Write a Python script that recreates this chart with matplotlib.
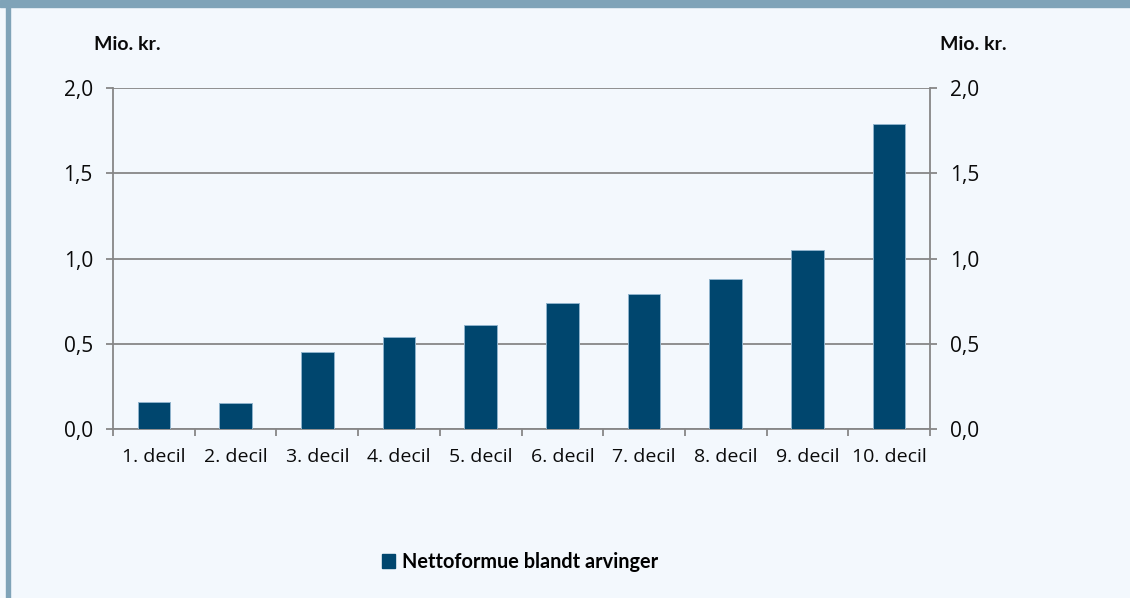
import matplotlib
matplotlib.use("Agg")
import matplotlib.pyplot as plt
from matplotlib.patches import Rectangle, Patch
import numpy as np

categories = ["1. decil", "2. decil", "3. decil", "4. decil", "5. decil",
              "6. decil", "7. decil", "8. decil", "9. decil", "10. decil"]
values = [0.16, 0.155, 0.45, 0.54, 0.61, 0.74, 0.79, 0.88, 1.05, 1.79]
yticks = [0.0, 0.5, 1.0, 1.5, 2.0]
ytick_labels = ["0,0", "0,5", "1,0", "1,5", "2,0"]
series_name = "Nettoformue blandt arvinger"

bg = "#f3f8fd"
band = "#7fa3b8"
bar_col = "#00466e"
grid_col = "#878787"
txt = "#0a0a0a"

plt.rcParams["font.family"] = ["Open Sans", "DejaVu Sans"]

fig = plt.figure(figsize=(11.3, 5.98), dpi=100, facecolor=bg)
# frame bands (top strip and left strip)
fig.patches.append(Rectangle((0, 1 - 7 / 598), 1, 7 / 598, transform=fig.transFigure,
                             color=band, zorder=0))
fig.patches.append(Rectangle((6 / 1130, 0), 4 / 1130, 1, transform=fig.transFigure,
                             color=band, zorder=0))

ax = fig.add_axes([113 / 1130, 1 - 429 / 598, 817 / 1130, 341 / 598])
ax.set_facecolor(bg)
x = np.arange(len(categories))
ax.bar(x, values, width=0.4, color=bar_col, edgecolor="#8fb3cc", linewidth=0.7, zorder=3)

ax.set_xlim(-0.5, len(categories) - 0.5)
ax.set_ylim(0, 2.0)
ax.set_yticks(yticks)
ax.set_yticklabels(ytick_labels)
ax.yaxis.grid(True, color=grid_col, linewidth=1.3, zorder=1)
ax.set_axisbelow(True)

ax.set_xticks(x)
ax.set_xticklabels(categories)
ax.set_xticks(np.arange(-0.5, len(categories)), minor=True)
ax.tick_params(axis="x", which="major", length=0, pad=13.5, labelsize=14, labelcolor=txt)
ax.tick_params(axis="x", which="minor", length=5, width=1.3, color=grid_col)
ax.tick_params(axis="y", length=5, width=1.3, color=grid_col, labelsize=15, pad=9.5,
               labelcolor=txt)

for side in ["left", "right", "bottom"]:
    ax.spines[side].set_color(grid_col)
    ax.spines[side].set_linewidth(1.3)
ax.spines["top"].set_visible(False)

ax2 = ax.twinx()
ax2.set_ylim(0, 2.0)
ax2.set_yticks(yticks)
ax2.set_yticklabels(ytick_labels)
ax2.tick_params(axis="y", length=5, width=1.3, color=grid_col, labelsize=15, pad=9.5,
                labelcolor=txt)
for s in ax2.spines.values():
    s.set_visible(False)

fig.text(94 / 1130, 1 - 44 / 598, "Mio. kr.", fontsize=14, fontweight="bold",
         family=["Lato", "DejaVu Sans"], va="center", ha="left", color=txt)
fig.text(940 / 1130, 1 - 44 / 598, "Mio. kr.", fontsize=14, fontweight="bold",
         family=["Lato", "DejaVu Sans"], va="center", ha="left", color=txt)

handle = Patch(facecolor=bar_col, edgecolor=bar_col)
fig.legend([handle], [series_name], loc="center", bbox_to_anchor=(520 / 1130, 1 - 562 / 598),
           frameon=False, handlelength=0.65, handleheight=0.65, handletextpad=0.35,
           prop={"family": ["Lato", "DejaVu Sans"], "weight": "bold", "size": 14.3})

fig.savefig("out.png", dpi=100, facecolor=bg)
